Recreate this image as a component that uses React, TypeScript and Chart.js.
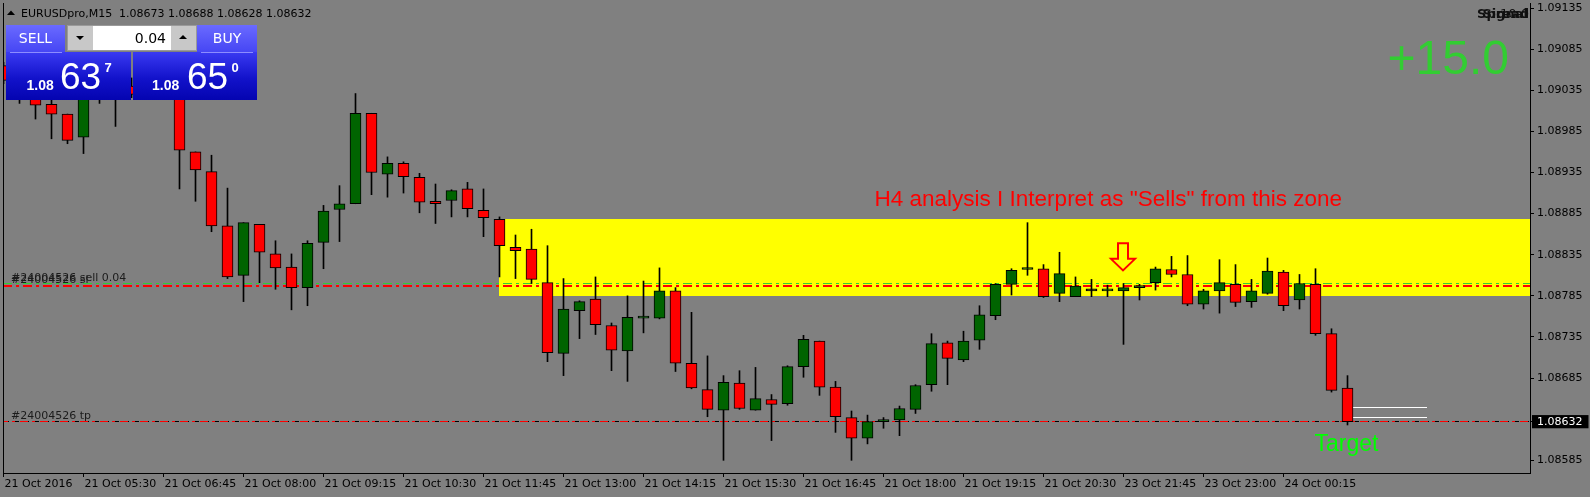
import React, { useEffect, useRef } from "react";
import { Chart, registerables } from "chart.js";

Chart.register(...registerables);

// ---------- data ----------
const timeLabels = [
  "21 Oct 2016", "21 Oct 05:30", "21 Oct 06:45", "21 Oct 08:00", "21 Oct 09:15",
  "21 Oct 10:30", "21 Oct 11:45", "21 Oct 13:00", "21 Oct 14:15", "21 Oct 15:30",
  "21 Oct 16:45", "21 Oct 18:00", "21 Oct 19:15", "21 Oct 20:30", "23 Oct 21:45",
  "23 Oct 23:00", "24 Oct 00:15",
];
const barsPerLabel = 5;

const opens = [
  1.09065, 1.09026, 1.09028, 1.09018, 1.09006, 1.08978, 1.09038, 1.09026, 1.09040, 1.09029,
  1.09045, 1.09038, 1.08960, 1.08936, 1.08870, 1.08810, 1.08872, 1.08836, 1.08820, 1.08795,
  1.08850, 1.08890, 1.08897, 1.09007, 1.08933, 1.08946, 1.08929, 1.08900, 1.08901, 1.08915,
  1.08889, 1.08878, 1.08844, 1.08842, 1.08801, 1.08715, 1.08767, 1.08781, 1.08749, 1.08718,
  1.08758, 1.08758, 1.08791, 1.08703, 1.08671, 1.08646, 1.08679, 1.08646, 1.08659, 1.08654,
  1.08699, 1.08730, 1.08674, 1.08637, 1.08612, 1.08632, 1.08634, 1.08647, 1.08677, 1.08728,
  1.08707, 1.08731, 1.08761, 1.08799, 1.08817, 1.08818, 1.08788, 1.08784, 1.08791, 1.08791,
  1.08791, 1.08795, 1.08801, 1.08817, 1.08811, 1.08775, 1.08791, 1.08799, 1.08778, 1.08788,
  1.08814, 1.08780, 1.08799, 1.08739, 1.08673,
];
const highs = [
  1.09069, 1.09047, 1.09035, 1.09027, 1.09006, 1.09040, 1.09047, 1.09045, 1.09050, 1.09057,
  1.09060, 1.09043, 1.08960, 1.08956, 1.08916, 1.08874, 1.08872, 1.08852, 1.08836, 1.08852,
  1.08895, 1.08919, 1.09031, 1.09007, 1.08954, 1.08948, 1.08934, 1.08921, 1.08914, 1.08923,
  1.08915, 1.08881, 1.08859, 1.08866, 1.08846, 1.08806, 1.08779, 1.08808, 1.08752, 1.08785,
  1.08803, 1.08819, 1.08795, 1.08765, 1.08712, 1.08688, 1.08694, 1.08698, 1.08665, 1.08700,
  1.08737, 1.08730, 1.08681, 1.08645, 1.08640, 1.08637, 1.08651, 1.08677, 1.08739, 1.08730,
  1.08742, 1.08773, 1.08800, 1.08818, 1.08874, 1.08823, 1.08838, 1.08808, 1.08805, 1.08798,
  1.08800, 1.08799, 1.08820, 1.08833, 1.08834, 1.08793, 1.08829, 1.08823, 1.08805, 1.08831,
  1.08816, 1.08811, 1.08818, 1.08745, 1.08688,
];
const lows = [
  1.09043, 1.09019, 1.09000, 1.08976, 1.08970, 1.08958, 1.09019, 1.08991, 1.09026, 1.09024,
  1.09027, 1.08915, 1.08900, 1.08863, 1.08806, 1.08778, 1.08801, 1.08793, 1.08768, 1.08773,
  1.08818, 1.08851, 1.08897, 1.08908, 1.08905, 1.08910, 1.08886, 1.08873, 1.08881, 1.08881,
  1.08857, 1.08808, 1.08806, 1.08800, 1.08705, 1.08688, 1.08733, 1.08738, 1.08694, 1.08681,
  1.08740, 1.08757, 1.08693, 1.08672, 1.08638, 1.08585, 1.08647, 1.08646, 1.08609, 1.08652,
  1.08686, 1.08664, 1.08619, 1.08585, 1.08605, 1.08624, 1.08615, 1.08642, 1.08669, 1.08677,
  1.08705, 1.08720, 1.08756, 1.08786, 1.08810, 1.08783, 1.08778, 1.08784, 1.08784, 1.08784,
  1.08726, 1.08780, 1.08792, 1.08808, 1.08773, 1.08769, 1.08764, 1.08772, 1.08771, 1.08787,
  1.08767, 1.08769, 1.08737, 1.08668, 1.08628,
];
const closes = [
  1.09047, 1.09041, 1.09017, 1.09006, 1.08974, 1.09035, 1.09028, 1.09038, 1.09030, 1.09047,
  1.09035, 1.08962, 1.08938, 1.08870, 1.08808, 1.08874, 1.08838, 1.08819, 1.08795, 1.08849,
  1.08888, 1.08897, 1.09007, 1.08935, 1.08946, 1.08930, 1.08899, 1.08897, 1.08913, 1.08891,
  1.08880, 1.08846, 1.08840, 1.08805, 1.08716, 1.08769, 1.08778, 1.08750, 1.08719, 1.08759,
  1.08760, 1.08791, 1.08703, 1.08673, 1.08647, 1.08680, 1.08648, 1.08660, 1.08653, 1.08699,
  1.08732, 1.08674, 1.08638, 1.08612, 1.08632, 1.08633, 1.08648, 1.08676, 1.08727, 1.08709,
  1.08730, 1.08762, 1.08799, 1.08816, 1.08818, 1.08784, 1.08812, 1.08797, 1.08791, 1.08792,
  1.08795, 1.08797, 1.08818, 1.08811, 1.08775, 1.08791, 1.08801, 1.08777, 1.08791, 1.08815,
  1.08773, 1.08800, 1.08739, 1.08670, 1.08632,
];

const priceTicks = [
  1.08585, 1.08632, 1.08685, 1.08735, 1.08785, 1.08835, 1.08885, 1.08935, 1.08985, 1.09035,
  1.09085, 1.09135,
];
const currentPrice = 1.08632;
const priceMin = 1.085696;
const priceMax = 1.091411;
const indexMin = -0.03125;
const indexMax = 95.40625;

const sellEntry = 1.088;
const stopLoss = 1.08797;
const takeProfit = 1.08632;
const zoneTop = 1.08878;
const zoneBottom = 1.08785;
const zoneStartIndex = 31;
const quoteMarkers = [1.08649, 1.08637];
const quoteMarkerFrom = 84.33;
const quoteMarkerTo = 88.95;
const arrowIndex = 70;
const arrowTopPrice = 1.08849;
const arrowTipPrice = 1.08816;
const headerText = "EURUSDpro,M15  1.08673 1.08688 1.08628 1.08632";
const zoneText = 'H4 analysis I Interpret as "Sells" from this zone';
const zoneTextAnchor = { index: 54.44, price: 1.088943 };
const targetText = "Target";
const targetAnchor = { index: 81.94, price: 1.085967 };
const profitText = "+15.0";
const orderId = "#24004526";

// ---------- plugin ----------
const overlayPlugin = {
  id: "mtOverlay",
  beforeDatasetsDraw(chart: any) {
    const { ctx, chartArea: a, scales } = chart;
    const xs = scales.x;
    const ys = scales.y;
    ctx.save();
    // supply zone
    const zx = Math.floor(xs.getPixelForValue(zoneStartIndex));
    const zt = Math.round(ys.getPixelForValue(zoneTop));
    const zb = Math.round(ys.getPixelForValue(zoneBottom));
    ctx.fillStyle = "#ffff00";
    ctx.fillRect(zx, zt, a.right - zx, zb - zt);

    const hline = (p: number, color: string, dash: number[], width = 1, offset = 0) => {
      const raw = ys.getPixelForValue(p);
      const py = width % 2 === 1 ? Math.round(raw - 0.5) + 0.5 : Math.round(raw);
      ctx.save();
      ctx.beginPath();
      ctx.setLineDash(dash);
      ctx.lineDashOffset = offset;
      ctx.strokeStyle = color;
      ctx.lineWidth = width;
      ctx.moveTo(a.left, py);
      ctx.lineTo(a.right, py);
      ctx.stroke();
      ctx.restore();
    };
    hline(sellEntry, "#32cd32", [9, 4, 3, 4], 1);
    hline(stopLoss, "#ff0000", [9, 4, 3, 4], 2);
    hline(currentPrice, "#000000", [6, 4], 1);
    hline(takeProfit, "#ff0000", [8, 4, 3, 5], 1, 3);

    // bid/ask markers
    ctx.strokeStyle = "#ffffff";
    ctx.lineWidth = 1;
    ctx.setLineDash([]);
    for (const q of quoteMarkers) {
      const py = Math.round(ys.getPixelForValue(q) - 0.5) + 0.5;
      ctx.beginPath();
      ctx.moveTo(Math.round(xs.getPixelForValue(quoteMarkerFrom)), py);
      ctx.lineTo(Math.round(xs.getPixelForValue(quoteMarkerTo)), py);
      ctx.stroke();
    }
    ctx.restore();
  },
  afterDatasetsDraw(chart: any) {
    const { ctx, chartArea: a, scales } = chart;
    const xs = scales.x;
    const ys = scales.y;
    ctx.save();
    // order labels
    ctx.fillStyle = "#1c1c1c";
    ctx.font = "11px 'DejaVu Sans'";
    ctx.textAlign = "left";
    ctx.textBaseline = "alphabetic";
    ctx.fillText(orderId + " sell 0.04", 11, Math.round(ys.getPixelForValue(sellEntry)) - 3.5);
    ctx.fillText(orderId + " sl", 11, Math.round(ys.getPixelForValue(stopLoss)) - 3.5);
    ctx.fillText(orderId + " tp", 11, Math.round(ys.getPixelForValue(takeProfit)) - 3.5);

    // zone text
    ctx.fillStyle = "#ff0000";
    ctx.font = "22.5px 'Liberation Sans', Arial";
    ctx.fillText(zoneText, xs.getPixelForValue(zoneTextAnchor.index), ys.getPixelForValue(zoneTextAnchor.price));

    // target
    ctx.fillStyle = "#00ff00";
    ctx.font = "23px 'Liberation Sans', Arial";
    ctx.fillText(targetText, xs.getPixelForValue(targetAnchor.index), ys.getPixelForValue(targetAnchor.price));

    // arrow
    const cx = xs.getPixelForValue(arrowIndex) - 0.5;
    const top = ys.getPixelForValue(arrowTopPrice);
    const tip = ys.getPixelForValue(arrowTipPrice);
    const neck = tip - 11.5;
    ctx.strokeStyle = "#ff0000";
    ctx.lineWidth = 2;
    ctx.lineJoin = "miter";
    ctx.beginPath();
    ctx.moveTo(cx - 5, top);
    ctx.lineTo(cx + 5, top);
    ctx.lineTo(cx + 5, neck);
    ctx.lineTo(cx + 12, neck);
    ctx.lineTo(cx, tip);
    ctx.lineTo(cx - 12, neck);
    ctx.lineTo(cx - 5, neck);
    ctx.closePath();
    ctx.stroke();

    // left border
    ctx.strokeStyle = "#000";
    ctx.lineWidth = 1;
    ctx.beginPath();
    ctx.moveTo(a.left + 0.5, a.top);
    ctx.lineTo(a.left + 0.5, a.bottom);
    ctx.stroke();
    ctx.restore();
  },
  afterDraw(chart: any) {
    const { ctx, chartArea: a } = chart;
    ctx.save();
    // header
    ctx.fillStyle = "#000";
    ctx.beginPath();
    ctx.moveTo(7, 15);
    ctx.lineTo(15, 15);
    ctx.lineTo(11, 10.5);
    ctx.closePath();
    ctx.fill();
    ctx.font = "11px 'DejaVu Sans'";
    ctx.textBaseline = "alphabetic";
    ctx.textAlign = "left";
    ctx.fillText(headerText, 21, 16.5);

    // top right overlapping labels
    ctx.textAlign = "right";
    ctx.font = "bold 13px 'DejaVu Sans'";
    ctx.fillStyle = "#111";
    ctx.fillText("Spread", a.right - 1, 18);
    ctx.fillText("Signal", a.right - 2, 18);
    ctx.font = "13px 'DejaVu Sans'";
    ctx.fillText("10.0", a.right - 1, 18);

    // profit
    ctx.fillStyle = "#32cd32";
    ctx.font = "48px 'Liberation Sans', Arial";
    ctx.fillText(profitText, a.right - 21, 73.5);
    ctx.restore();
  },
};

function Panel() {
  const white = "#ffffff";
  const priceBox = "linear-gradient(180deg, #3a3af2 0%, #1212ca 55%, #0404b0 100%)";
  const tab = "linear-gradient(180deg, #6a6aff 0%, #4646f4 100%)";
  const abs = (l: number, t: number, w: number, h: number, extra: any = {}) => ({
    position: "absolute" as const,
    left: l,
    top: t,
    width: w,
    height: h,
    ...extra,
  });
  const txt = (l: number, top: number, size: number, s: string, extra: any = {}) => (
    <span
      style={{
        position: "absolute",
        left: l,
        top,
        fontSize: size,
        lineHeight: 1,
        color: white,
        whiteSpace: "nowrap",
        fontFamily: "'Liberation Sans', Arial, sans-serif",
        ...extra,
      }}
    >
      {s}
    </span>
  );
  return (
    <>
      {/* SELL side */}
      <div style={abs(6, 52, 125, 48, { background: priceBox })} />
      <div style={abs(6, 25, 59, 27, { background: tab })} />
      <div style={abs(10, 52, 52, 1, { background: "#8c8cff" })} />
      <div style={abs(6, 25, 59, 27, { color: white, fontFamily: "'DejaVu Sans'", fontSize: 14, textAlign: "center", lineHeight: "27px" })}>SELL</div>
      {txt(26.5, 77.5, 14, "1.08", { fontWeight: "bold" })}
      {txt(60, 58, 37, "63")}
      {txt(104.5, 60.6, 13, "7", { fontWeight: "bold" })}

      {/* BUY side */}
      <div style={abs(133, 52, 124, 48, { background: priceBox })} />
      <div style={abs(197, 25, 60, 27, { background: tab })} />
      <div style={abs(201, 52, 52, 1, { background: "#8c8cff" })} />
      <div style={abs(197, 25, 60, 27, { color: white, fontFamily: "'DejaVu Sans'", fontSize: 14, textAlign: "center", lineHeight: "27px" })}>BUY</div>
      {txt(152, 77.5, 14, "1.08", { fontWeight: "bold" })}
      {txt(187, 58, 37, "65")}
      {txt(231.5, 60.6, 13, "0", { fontWeight: "bold" })}

      {/* lot control */}
      <div style={abs(67, 25, 130, 26, { background: "#c8c8c8", boxSizing: "border-box", border: "1px solid #9a9a9a" })} />
      <div style={abs(93, 26, 78, 24, { background: "#ffffff" })} />
      <div style={abs(76, 36, 0, 0, { borderLeft: "4px solid transparent", borderRight: "4px solid transparent", borderTop: "4px solid #000" })} />
      <div style={abs(179, 35, 0, 0, { borderLeft: "4px solid transparent", borderRight: "4px solid transparent", borderBottom: "4px solid #000" })} />
      <div style={abs(93, 26, 73, 24, { color: "#000", fontFamily: "'DejaVu Sans'", fontSize: 14, textAlign: "right", lineHeight: "24px" })}>0.04</div>
    </>
  );
}

export default function App() {
  const ref = useRef<HTMLCanvasElement>(null);
  useEffect(() => {
    const canvas = ref.current;
    if (!canvas) return;
    const bodyColors = opens.map((o, i) =>
      closes[i] > o ? "#006400" : closes[i] < o ? "#ff0000" : "#000000"
    );
    const chart = new Chart(canvas, {
      type: "bar",
      data: {
        datasets: [
          {
            type: "bar",
            data: opens.map((o, i) => ({ x: i, y: [o, closes[i]] })) as any,
            backgroundColor: bodyColors,
            borderColor: "#000000",
            borderWidth: 1,
            borderSkipped: false,
            barThickness: 11,
            grouped: false,
            minBarLength: 2,
            order: 1,
          } as any,
          {
            type: "bar",
            data: lows.map((l, i) => ({ x: i, y: [l, highs[i]] })) as any,
            backgroundColor: "#000000",
            borderWidth: 0,
            barThickness: 1,
            grouped: false,
            order: 2,
          } as any,
        ],
      },
      options: {
        animation: false,
        responsive: false,
        maintainAspectRatio: false,
        devicePixelRatio: 1,
        layout: { padding: { left: 3, top: 3, right: 0, bottom: 0 } },
        plugins: { legend: { display: false }, tooltip: { enabled: false } },
        scales: {
          x: {
            type: "linear",
            min: indexMin,
            max: indexMax,
            offset: false,
            grid: { display: true, drawOnChartArea: false, drawTicks: true, tickLength: 4, color: "#000", offset: false },
            border: { display: true, color: "#000", width: 1 },
            ticks: {
              autoSkip: false,
              maxRotation: 0,
              minRotation: 0,
              align: "start",
              labelOffset: 1,
              padding: 1,
              color: "#000",
              font: { family: "'DejaVu Sans'", size: 11 },
              callback: (v: any) => timeLabels[Math.round(Number(v) / barsPerLabel)] ?? "",
            },
            afterBuildTicks: (scale: any) => {
              scale.ticks = timeLabels.map((_, i) => ({ value: i * barsPerLabel }));
            },
            afterFit: (scale: any) => {
              scale.height = 24;
              scale.paddingLeft = 0;
              scale.paddingRight = 0;
            },
          } as any,
          y: {
            type: "linear",
            position: "right",
            min: priceMin,
            max: priceMax,
            grid: { display: true, drawOnChartArea: false, drawTicks: true, tickLength: 4, color: "#000" },
            border: { display: true, color: "#000", width: 1 },
            ticks: {
              autoSkip: false,
              padding: 3,
              crossAlign: "near",
              font: { family: "'DejaVu Sans'", size: 11 },
              color: (c: any) => (c.tick && c.tick.value === currentPrice ? "#ffffff" : "#000000"),
              showLabelBackdrop: (c: any) => !!(c.tick && c.tick.value === currentPrice),
              backdropColor: "#000000",
              backdropPadding: { left: 5, right: 6, top: 0, bottom: 0 },
              callback: (v: any) => Number(v).toFixed(5),
            },
            afterBuildTicks: (scale: any) => {
              scale.ticks = priceTicks.map((p) => ({ value: p }));
            },
            afterFit: (scale: any) => {
              scale.width = 60;
              scale.paddingTop = 0;
              scale.paddingBottom = 0;
            },
          } as any,
        },
      } as any,
      plugins: [overlayPlugin],
    });
    return () => chart.destroy();
  }, []);

  return (
    <div
      style={{
        position: "fixed",
        left: 0,
        top: 0,
        width: 1590,
        height: 497,
        background: "#808080",
        overflow: "hidden",
      }}
    >
      <canvas
        ref={ref}
        width={1590}
        height={497}
        style={{ position: "absolute", left: 0, top: 0, width: 1590, height: 497 }}
      />
      <Panel />
    </div>
  );
}
